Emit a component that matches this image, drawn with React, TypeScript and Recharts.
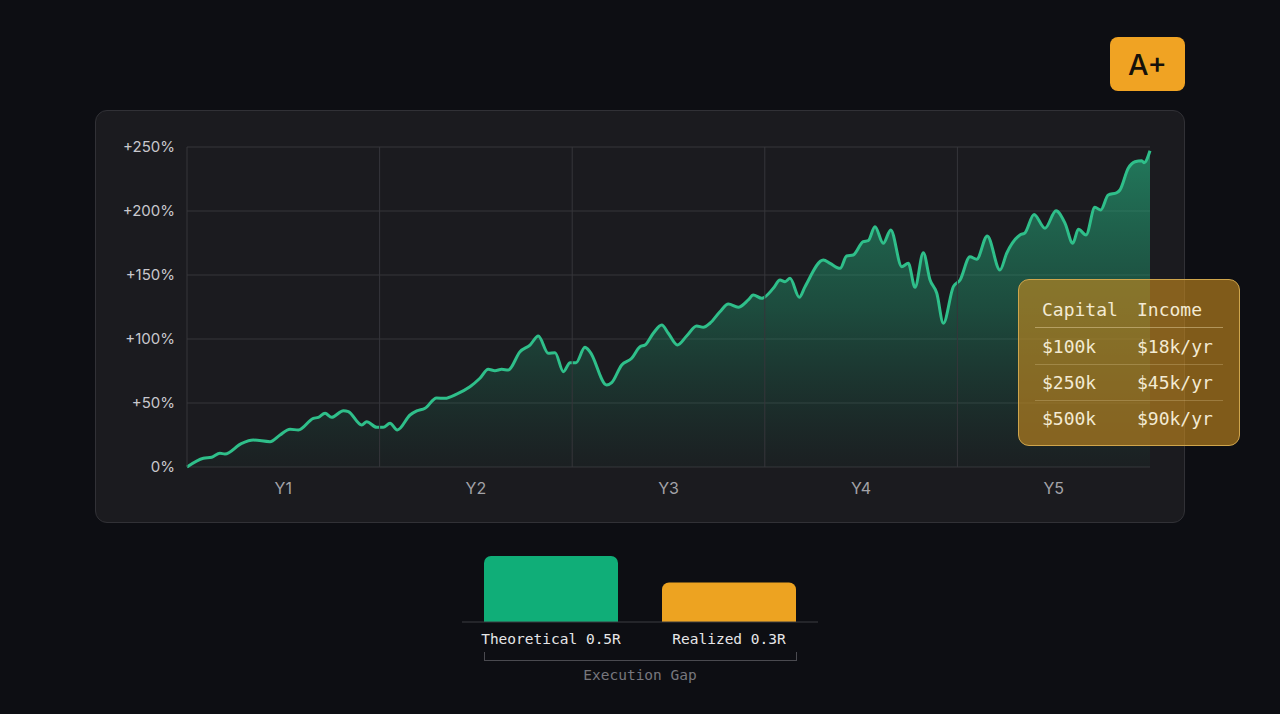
import React from "react";
import { Area, AreaChart, Bar, BarChart, CartesianGrid, Cell, ReferenceLine, XAxis, YAxis } from "recharts";

// equity curve, x in years since start, y in % return
const YEARS = [
  0, 0.085, 0.128, 0.171, 0.197, 0.284, 0.344, 0.431, 0.483, 0.535, 0.578, 0.656, 0.682, 0.717, 0.751, 0.812, 0.838, 0.907, 0.933, 0.985,
  1.019, 1.054, 1.092, 1.158, 1.193, 1.236, 1.296, 1.339, 1.4, 1.469, 1.521, 1.564, 1.599, 1.634, 1.668, 1.729, 1.781, 1.824, 1.876, 1.911, 1.954, 1.989,
  2.02, 2.066, 2.092, 2.179, 2.205, 2.257, 2.309, 2.352, 2.378, 2.421, 2.465, 2.499, 2.546, 2.594, 2.646, 2.681, 2.715, 2.767, 2.811, 2.862, 2.914, 2.94, 2.984,
  3.044, 3.079, 3.105, 3.131, 3.179, 3.209, 3.304, 3.339, 3.391, 3.425, 3.459, 3.511, 3.537, 3.572, 3.615, 3.654, 3.711, 3.745, 3.78, 3.823, 3.858, 3.893, 3.927, 3.979,
  4.014, 4.065, 4.1, 4.155, 4.221, 4.256, 4.325, 4.351, 4.398, 4.455, 4.512, 4.559, 4.599, 4.628, 4.668, 4.714, 4.744, 4.783, 4.827, 4.844, 4.887, 4.922, 4.957, 4.969, 5
];
const RETURNS = [
  0, 6.8, 7.6, 10.7, 10.2, 18.5, 21.1, 19.8, 25, 29.5, 28.9, 38, 38.8, 42, 38.8, 44, 43.2, 32.8, 35.4, 31,
  31, 34.1, 28.9, 40.6, 43.8, 45.9, 53.9, 53.7, 57, 62.7, 69.3, 76.3, 75.2, 76.3, 75.8, 90.1, 95.3, 102.3, 88.8, 89.3, 74.5, 81.5,
  81.5, 93.5, 90.1, 64.1, 65.9, 79.7, 84.9, 94, 95.3, 104.5, 110.9, 104.5, 95.3, 102.3, 110.2, 109.1, 112.3, 121.3, 127.3, 124.8, 130.5, 134.4, 131.8,
  139.6, 146.1, 144.8, 147.4, 132.6, 140.9, 161.7, 159.1, 155.2, 164.8, 165.6, 176, 176.8, 187.7, 174.8, 185.2, 156.5, 159.1, 140.4, 167.4, 146.1, 135.7, 112.3, 140.9,
  146.1, 164.3, 162.3, 180.5, 153.9, 167, 181.3, 183, 197.3, 186.5, 200.2, 190.4, 174.8, 185.7, 181.3, 202.9, 200.8, 212.5, 214.3, 216.4, 233.4, 238.5, 239.3, 237.7, 247.1
];
const YEAR_LABELS = ["Y1", "Y2", "Y3", "Y4", "Y5"];
const RETURN_TICKS = [0, 50, 100, 150, 200, 250];

const CAPITAL = ["$100k", "$250k", "$500k"];
const INCOME = ["$18k/yr", "$45k/yr", "$90k/yr"];

const EXPECTANCY_LABELS = ["Theoretical 0.5R", "Realized 0.3R"];
const EXPECTANCY_VALUES = [0.5, 0.3];
const EXPECTANCY_COLORS = ["#10ae78", "#eda321"];

const curve = YEARS.map((t, i) => ({ t, r: RETURNS[i] }));
const bars = EXPECTANCY_LABELS.map((name, i) => ({ name, value: EXPECTANCY_VALUES[i] }));

const mono = "'DejaVu Sans Mono', monospace";
const sans = "Inter, 'Noto Sans', sans-serif";

export default function App() {
  return (
    <div style={{ position: "fixed", left: 0, top: 0, width: 1280, height: 714, background: "#0d0e13", overflow: "hidden", fontFamily: sans }}>
      <div style={{ position: "absolute", left: 1110, top: 37, width: 75, height: 54, borderRadius: 8, background: "#f0a323", color: "#15110a", fontSize: 29, fontWeight: 500, display: "flex", alignItems: "center", justifyContent: "center" }}>A+</div>

      <div style={{ position: "absolute", left: 95, top: 110, width: 1088, height: 411, borderRadius: 12, background: "#1b1b1f", border: "1px solid #313136" }} />
      <div style={{ position: "absolute", left: 95, top: 110 }}>
        <AreaChart width={1090} height={413} data={curve} margin={{ top: 37, right: 35, bottom: 26, left: 0 }}>
          <defs>
            <linearGradient id="eq" x1="0" y1="0" x2="0" y2="1">
              <stop offset="0%" stopColor="#27bf89" stopOpacity={0.95} />
              <stop offset="50%" stopColor="#20a274" stopOpacity={0.6} />
              <stop offset="100%" stopColor="#1d7a5c" stopOpacity={0.08} />
            </linearGradient>
          </defs>
          <CartesianGrid vertical={false} stroke="#36363b" />
          {[0, 1, 2, 3, 4].map((x) => <ReferenceLine key={x} x={x} stroke="#36363b" />)}
          <XAxis type="number" dataKey="t" domain={[0, 5]} ticks={[0.5, 1.5, 2.5, 3.5, 4.5]} tickFormatter={(v: number) => YEAR_LABELS[Math.floor(v)]} axisLine={false} tickLine={false} tickSize={0} tickMargin={16} height={30} tick={{ fill: "#a3a3a8", fontSize: 16, fontFamily: sans }} />
          <YAxis type="number" domain={[0, 250]} ticks={RETURN_TICKS} tickFormatter={(v: number) => (v === 0 ? "0%" : `+${v}%`)} axisLine={false} tickLine={false} tickSize={0} tickMargin={12} width={92} tick={{ fill: "#c8c8cd", fontSize: 15, fontFamily: sans }} />
          <Area type="monotone" dataKey="r" stroke="#2fbf8a" strokeWidth={3} fill="url(#eq)" dot={false} activeDot={false} isAnimationActive={false} />
        </AreaChart>
      </div>

      <div style={{ position: "absolute", left: 1018, top: 279, width: 220, height: 165, borderRadius: 11, background: "rgba(200,138,30,0.62)", border: "1.5px solid #cfa54c", fontFamily: mono, fontSize: 18, color: "#f3ead3" }}>
        <div style={{ position: "absolute", left: 16, right: 16, top: 11, height: 36, display: "flex", alignItems: "center", borderBottom: "1.5px solid rgba(240,220,170,0.45)" }}>
          <span style={{ position: "absolute", left: 7 }}>Capital</span>
          <span style={{ position: "absolute", left: 102 }}>Income</span>
        </div>
        {CAPITAL.map((c, i) => (
          <div key={c} style={{ position: "absolute", left: 16, right: 16, top: 48 + i * 36, height: 36, display: "flex", alignItems: "center", borderBottom: i < 2 ? "1px solid rgba(240,220,170,0.25)" : "none" }}>
            <span style={{ position: "absolute", left: 7 }}>{c}</span>
            <span style={{ position: "absolute", left: 102 }}>{INCOME[i]}</span>
          </div>
        ))}
      </div>

      <div style={{ position: "absolute", left: 462, top: 556 }}>
        <BarChart width={356} height={96} data={bars} margin={{ top: 0, right: 0, bottom: 0, left: 0 }} barCategoryGap={22}>
          <XAxis dataKey="name" axisLine={{ stroke: "#3d3d42" }} tickLine={false} tickSize={0} tickMargin={12} height={30} interval={0} tick={{ fill: "#e6e6e8", fontSize: 14.5, fontFamily: mono }} />
          <YAxis hide domain={[0, 0.5]} />
          <Bar dataKey="value" barSize={134} radius={[7, 7, 0, 0]} isAnimationActive={false}>
            {bars.map((b, i) => <Cell key={b.name} fill={EXPECTANCY_COLORS[i]} />)}
          </Bar>
        </BarChart>
      </div>
      <div style={{ position: "absolute", left: 484, top: 652, width: 311, height: 8, borderLeft: "1px solid #4a4a50", borderRight: "1px solid #4a4a50", borderBottom: "1px solid #4a4a50" }} />
      <div style={{ position: "absolute", left: 540, top: 667, width: 200, textAlign: "center", fontFamily: mono, fontSize: 14.5, color: "#77777d" }}>Execution Gap</div>
    </div>
  );
}
